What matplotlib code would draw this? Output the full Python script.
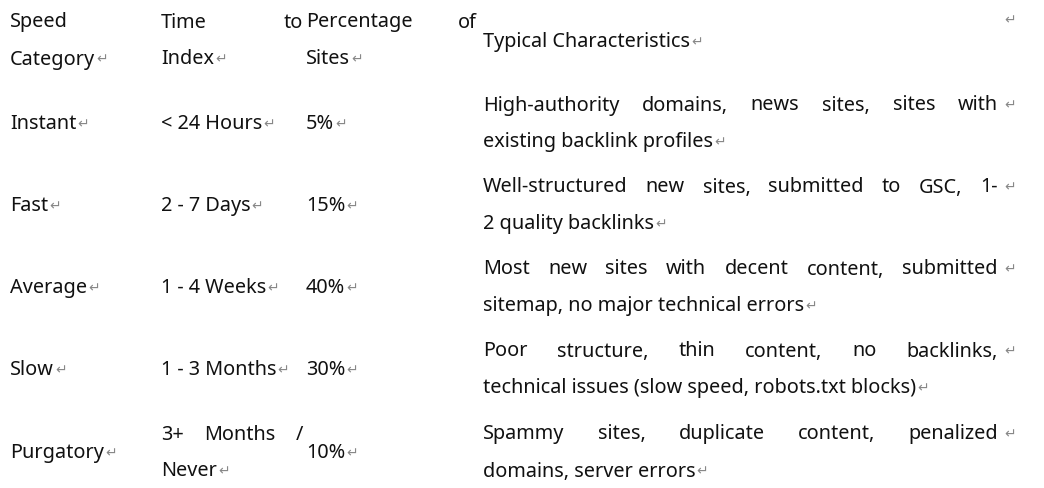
import matplotlib.pyplot as plt

plt.rcParams['font.family'] = ['Noto Sans', 'DejaVu Sans']

headers = [["Speed", "Category"], ["Time to", "Index"], ["Percentage of", "Sites"],
           ["Typical Characteristics"]]
categories = ["Instant", "Fast", "Average", "Slow", "Purgatory"]
times = [["< 24 Hours"], ["2 - 7 Days"], ["1 - 4 Weeks"], ["1 - 3 Months"], ["3+ Months /", "Never"]]
percents = ["5%", "15%", "40%", "30%", "10%"]
traits = [
    ["High-authority domains, news sites, sites with", "existing backlink profiles"],
    ["Well-structured new sites, submitted to GSC, 1-", "2 quality backlinks"],
    ["Most new sites with decent content, submitted", "sitemap, no major technical errors"],
    ["Poor structure, thin content, no backlinks,", "technical issues (slow speed, robots.txt blocks)"],
    ["Spammy sites, duplicate content, penalized", "domains, server errors"],
]

W, H = 1044, 489
fig = plt.figure(figsize=(W / 100, H / 100), dpi=100)
ax = fig.add_axes([0, 0, 1, 1])
ax.set_xlim(0, W)
ax.set_ylim(H, 0)
ax.axis('off')
fig.canvas.draw()
renderer = fig.canvas.get_renderer()

col_x = [10, 161, 306, 483]
col_right = [158, 303, 477, 998]
fs = 14.3
LINE = 37
ARROW = dict(fontsize=fs * 0.7, color='#888888', va='center', ha='left', family='DejaVu Sans')


def arrow(x, y):
    ax.text(x + 1, y, "\u21b5", **ARROW)


def justified(x0, x1, y, s, bold=False):
    words = s.split()
    kw = dict(fontsize=fs, fontweight='bold' if bold else 'normal', va='center', ha='left',
              color='#111111')
    widths = []
    for w in words:
        t = ax.text(0, 0, w, **kw)
        widths.append(t.get_window_extent(renderer).width)
        t.remove()
    gap = (x1 - x0 - sum(widths)) / max(len(words) - 1, 1)
    x = x0
    for w, wd in zip(words, widths):
        ax.text(x, y, w, **kw)
        x += wd + gap


def plain(x, y, s, bold=False):
    t = ax.text(x, y, s, fontsize=fs, fontweight='bold' if bold else 'normal',
                va='center', ha='left', color='#111111')
    return t.get_window_extent(renderer).x1


def cell(x, right, lines, yc, bold=False, arrow_cap=None):
    n = len(lines)
    y0 = yc - (n - 1) * LINE / 2
    for i, s in enumerate(lines):
        y = y0 + i * LINE
        if i < n - 1:
            justified(x, right, y, s, bold)
        else:
            ex = plain(x, y, s, bold)
            if arrow_cap is not None:
                ex = min(ex, arrow_cap)
            arrow(ex, y)


# header
for j in range(3):
    cell(col_x[j], col_right[j], headers[j], 41, bold=True, arrow_cap=col_right[j])
cell(col_x[3], col_right[3], headers[3], 42, bold=True)
arrow(1003, 20)

row_y = [124, 206, 288, 370, 453]
for k, yc in enumerate(row_y):
    cell(col_x[0], col_right[0], [categories[k]], yc, bold=True, arrow_cap=col_right[0])
    cell(col_x[1], col_right[1], times[k], yc, arrow_cap=col_right[1])
    cell(col_x[2], col_right[2], [percents[k]], yc, arrow_cap=col_right[2])
    cell(col_x[3], col_right[3], traits[k], yc)
    arrow(1003, yc - LINE / 2)

fig.savefig("out.png", dpi=100)
